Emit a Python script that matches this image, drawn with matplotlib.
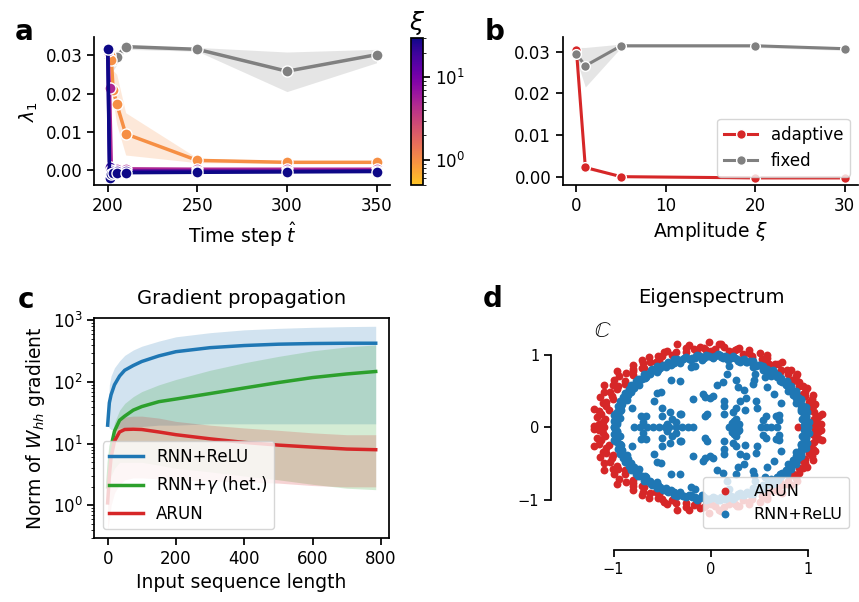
import numpy as np
import matplotlib
matplotlib.use('Agg')
import matplotlib.pyplot as plt
import matplotlib.cm as cm
from matplotlib.colors import LogNorm, ListedColormap

plt.rcParams.update({
    'font.size': 12,
    'axes.linewidth': 1.25,
    'xtick.major.width': 1.25,
    'ytick.major.width': 1.25,
    'xtick.major.size': 5,
    'ytick.major.size': 5,
})

# ---- panel a: lambda_1 vs time step, per amplitude xi ----
t_steps = [200, 201, 202, 203, 205, 210, 250, 300, 350]
xi_levels = [1, 5, 20, 30]
lam_xi1 = [0.0305, 0.0300, 0.0287, 0.0210, 0.0173, 0.0095, 0.0026, 0.0021, 0.0021]
lam_xi1_lo = [0.0300, 0.0290, 0.0270, 0.0180, 0.0120, 0.0040, 0.0020, 0.0018, 0.0018]
lam_xi1_hi = [0.0310, 0.0310, 0.0300, 0.0260, 0.0250, 0.0150, 0.0032, 0.0024, 0.0024]
lam_xi5 = [0.0310, 0.0215, 0.0006, 0.0005, 0.0004, 0.0004, 0.0003, 0.0003, 0.0003]
lam_xi20 = [0.0316, 0.0008, 0.0001, -0.0001, -0.0002, -0.0002, -0.0002, -0.0002, -0.0001]
lam_xi30 = [0.0316, -0.0020, -0.0010, -0.0008, -0.0006, -0.0006, -0.0005, -0.0004, -0.0003]
lam_fixed = [0.0300, 0.0298, 0.0295, 0.0288, 0.0296, 0.0322, 0.0315, 0.0258, 0.0301]
lam_fixed_lo = [0.0295, 0.0290, 0.0280, 0.0260, 0.0275, 0.0315, 0.0310, 0.0205, 0.0280]
lam_fixed_hi = [0.0305, 0.0305, 0.0305, 0.0310, 0.0310, 0.0325, 0.0320, 0.0308, 0.0315]

# ---- panel b: lambda_1 vs amplitude ----
amp = [0, 1, 5, 20, 30]
lam_adaptive = [0.0304, 0.0022, 0.0000, -0.0003, -0.0003]
lam_adaptive_lo = [0.0300, 0.0018, -0.0002, -0.0005, -0.0005]
lam_adaptive_hi = [0.0308, 0.0026, 0.0002, -0.0001, -0.0001]
lam_fix = [0.0294, 0.0266, 0.0314, 0.0314, 0.0307]
lam_fix_lo = [0.0280, 0.0215, 0.0310, 0.0310, 0.0303]
lam_fix_hi = [0.0310, 0.0310, 0.0318, 0.0318, 0.0311]

# ---- panel c: gradient norm vs sequence length ----
seq_len = [0, 5, 10, 20, 35, 50, 75, 100, 150, 200, 300, 400, 500, 600, 700, 785]
relu_mean = [20, 46, 62, 90, 125, 155, 185, 215, 265, 310, 360, 390, 410, 420, 425, 425]
relu_lo = [20, 18, 17, 17, 18, 18, 19, 19, 20, 20, 21, 21, 21, 21, 21, 21]
relu_hi = [20, 90, 125, 170, 220, 270, 330, 380, 460, 540, 630, 700, 740, 770, 790, 800]
gamma_mean = [2, 5, 9, 16, 24, 28, 35, 40, 48, 53, 65, 80, 98, 118, 135, 148]
gamma_lo = [1, 2, 3, 4, 5, 5, 5, 5, 4.5, 4, 3.5, 3, 2.6, 2.2, 1.9, 1.8]
gamma_hi = [2, 7, 12, 22, 35, 45, 58, 70, 90, 110, 155, 205, 260, 320, 370, 400]
arun_mean = [1.1, 3, 6, 11, 15.5, 17, 17.2, 17, 15.5, 14, 12, 10.5, 9.5, 8.8, 8.2, 8]
arun_lo = [0.4, 0.6, 1.0, 1.6, 2.2, 2.6, 2.8, 2.8, 2.7, 2.6, 2.5, 2.4, 2.3, 2.1, 2.0, 2.0]
arun_hi = [1.2, 5, 10, 18, 24, 27, 28, 28, 26, 23, 20, 18, 16.5, 15, 14, 14]

# ---- panel d: eigenvalues (upper half plane; conjugates mirrored) ----
relu_ring_phase = [0, 2, 4.5, 7, 9, 11.5, 14, 16, 18.5, 21,
                   23, 25.5, 28, 30, 32.5, 35, 37, 39.5, 42, 44,
                   46.5, 49, 51, 53.5, 56, 58, 60.5, 63, 65, 67.5,
                   70, 72, 74.5, 77, 79, 81.5, 84, 86, 88.5, 91,
                   93, 95.5, 98, 100, 102.5, 105, 107, 109.5, 112, 114,
                   116.5, 119, 121, 123.5, 126, 128, 130.5, 133, 135, 137.5,
                   140, 142, 144.5, 147, 149, 151.5, 154, 156, 158.5, 161,
                   163, 165.5, 168, 170, 172.5, 175, 177, 180,
                   1, 3.5, 5.5, 8, 10.5, 12.5, 15, 17.5, 19.5, 22,
                   24.5, 26.5, 29, 31.5, 33.5, 36, 38.5, 40.5, 43, 45.5,
                   47.5, 50, 52.5, 54.5, 57, 59.5, 61.5, 64, 66.5, 68.5,
                   71, 73.5, 75.5, 78, 80.5, 82.5, 85, 87.5, 89.5, 92,
                   94.5, 96.5, 99, 101.5, 103.5, 106, 108.5, 110.5, 113, 115.5,
                   117.5, 120, 122.5, 124.5, 127, 129.5, 131.5, 134, 136.5, 138.5,
                   141, 143.5, 145.5, 148, 150.5, 152.5, 155, 157.5, 159.5, 162,
                   164.5, 166.5, 169, 171.5, 173.5, 176, 178.5]
relu_ring_mag = [1.00, 0.955, 1.01, 0.94, 0.985, 1.00, 0.955, 1.01, 0.97, 0.94,
                 1.00, 0.985, 0.955, 1.01, 0.94, 1.00, 0.97, 1.01, 0.955, 0.985,
                 1.00, 0.94, 1.01, 0.97, 0.955, 1.00, 0.985, 0.94, 1.01, 0.97,
                 1.00, 0.955, 0.985, 1.01, 0.94, 1.00, 0.97, 1.01, 0.955, 0.985,
                 1.00, 0.94, 1.01, 0.97, 0.955, 1.00, 0.985, 0.94, 1.01, 0.97,
                 1.00, 0.955, 0.985, 1.01, 0.94, 1.00, 0.97, 1.01, 0.955, 0.985,
                 1.00, 0.94, 1.01, 0.97, 0.955, 1.00, 0.985, 0.94, 1.01, 0.97,
                 1.00, 0.955, 0.985, 1.01, 0.94, 1.00, 0.97, 1.00,
                 0.975, 0.99, 0.965, 0.985, 0.97, 1.005, 0.96, 0.99, 0.975, 1.0,
                 0.965, 0.98, 0.995, 0.96, 0.985, 0.975, 1.0, 0.965, 0.99, 0.97,
                 0.98, 1.005, 0.96, 0.985, 0.975, 0.995, 0.965, 0.98, 1.0, 0.97,
                 0.985, 0.96, 0.995, 0.975, 0.99, 0.965, 1.005, 0.98, 0.97, 0.99,
                 0.96, 0.985, 1.0, 0.975, 0.965, 0.99, 0.98, 1.005, 0.97, 0.96,
                 0.985, 0.995, 0.975, 0.965, 1.0, 0.98, 0.99, 0.96, 0.975, 1.005,
                 0.97, 0.985, 0.965, 0.995, 0.98, 0.96, 1.0, 0.975, 0.99, 0.97,
                 0.985, 0.965, 1.0, 0.975, 0.99, 0.97, 0.985]
relu_inner_re = [-0.21, -0.16, -0.41, -0.32, -0.51, -0.81, -0.72, -0.67, -0.50, -0.42,
                 -0.50, -0.32, -0.59, -0.18, -0.08, -0.06, -0.01, 0.02, -0.04, -0.06,
                 0.06, 0.12, 0.16, 0.19, 0.26, 0.34, 0.13, 0.13, 0.13, 0.23,
                 0.26, 0.30, 0.36, 0.35, 0.46, 0.47, 0.45, 0.44, 0.55, 0.58,
                 0.65, 0.72, 0.70, 0.67, 0.56, 0.53, -0.40, -0.36, 0.24, 0.28,
                 0.70, -0.70, -0.45, -0.55, 0.28, 0.43, 0.22, 0.26, 0.29, -0.31]
relu_inner_im = [0.83, 0.85, 0.65, 0.64, 0.49, 0.26, 0.16, 0.16, 0.26, 0.21,
                 0.15, 0.19, 0.37, 0.39, 0.46, 0.42, 0.40, 0.43, 0.19, 0.15,
                 0.59, 0.63, 0.74, 0.85, 0.65, 0.51, 0.37, 0.30, 0.19, 0.21,
                 0.26, 0.37, 0.40, 0.24, 0.36, 0.26, 0.74, 0.66, 0.69, 0.55,
                 0.46, 0.33, 0.17, 0.16, 0.15, 0.10, 0.12, 0.08, 0.09, 0.05,
                 0.10, 0.08, 0.05, 0.48, 0.55, 0.60, 0.06, 0.12, 0.04, 0.19]
relu_real = [-0.79, -0.73, -0.66, -0.60, -0.53, -0.47, -0.43, -0.36, -0.30, -0.24,
             -0.18, 0.19, 0.24, 0.28, 0.51, 0.56, 0.62, 0.68]

arun_phase = [1, 3, 6, 8, 11, 13, 16, 19, 21, 24,
              27, 29, 32, 35, 37, 40, 43, 45, 48, 51,
              53, 56, 59, 61, 64, 67, 69, 72, 75, 77,
              80, 83, 85, 88, 91, 93, 96, 99, 101, 104,
              107, 109, 112, 115, 117, 120, 123, 125, 128, 131,
              133, 136, 139, 141, 144, 147, 149, 152, 155, 157,
              160, 163, 165, 168, 171, 173, 176, 179,
              5, 14, 26, 38, 47, 58, 66, 79, 90, 98,
              111, 122, 130, 138, 146, 151, 159, 167, 174,
              2, 9, 17, 23, 31, 39, 44, 52, 60, 70,
              76, 86, 94, 103, 113, 119, 127, 135, 143, 150,
              156, 162, 169, 178]
arun_mag = [1.07, 1.10, 1.06, 1.12, 1.08, 1.05, 1.09, 1.07, 1.11, 1.06,
            1.08, 1.13, 1.07, 1.10, 1.06, 1.15, 1.08, 1.11, 1.07, 1.16,
            1.09, 1.06, 1.12, 1.08, 1.14, 1.07, 1.10, 1.06, 1.13, 1.09,
            1.07, 1.11, 1.16, 1.08, 1.18, 1.07, 1.12, 1.09, 1.16, 1.07,
            1.20, 1.10, 1.08, 1.14, 1.11, 1.07, 1.16, 1.10, 1.13, 1.08,
            1.18, 1.11, 1.15, 1.24, 1.09, 1.19, 1.12, 1.25, 1.14, 1.10,
            1.21, 1.16, 1.12, 1.23, 1.14, 1.18, 1.11, 1.20,
            1.05, 1.04, 1.05, 1.06, 1.04, 1.05, 1.04, 1.05, 1.06, 1.04,
            1.05, 1.06, 1.07, 1.08, 1.06, 1.10, 1.08, 1.07, 1.09,
            1.13, 1.15, 1.12, 1.14, 1.10, 1.12, 1.14, 1.11, 1.15, 1.13,
            1.12, 1.15, 1.10, 1.13, 1.15, 1.12, 1.17, 1.14, 1.18, 1.16,
            1.20, 1.13, 1.17, 1.15]
arun_real = [0.89, -1.10, -1.16]


def upper_to_full(re, im):
    re = np.asarray(re, float)
    im = np.asarray(im, float)
    return np.concatenate([re, re]), np.concatenate([im, -im])


def polar_to_full(mag, phase_deg):
    z = np.asarray(mag) * np.exp(1j * np.deg2rad(phase_deg))
    return upper_to_full(z.real, z.imag)


fig = plt.figure(figsize=(8.59, 6.02), dpi=100)

# ---------------- a ----------------
ax_a = fig.add_axes([0.1098, 0.6927, 0.3442, 0.2458])
# plasma, reversed, without the brightest yellow end
cmap = ListedColormap(plt.get_cmap('plasma')(np.linspace(0.88, 0.0, 256)))
norm = LogNorm(0.5, 30)
mk = dict(marker='o', lw=2.5, ms=8, mec='white', mew=1.0)

ax_a.fill_between(t_steps, lam_fixed_lo, lam_fixed_hi, color='gray', alpha=0.2, lw=0)
ax_a.plot(t_steps, lam_fixed, color='gray', **mk)
ax_a.fill_between(t_steps, lam_xi1_lo, lam_xi1_hi, color=cmap(norm(1)), alpha=0.2, lw=0)
for xi, lam in zip(xi_levels, [lam_xi1, lam_xi5, lam_xi20, lam_xi30]):
    ax_a.plot(t_steps, lam, color=cmap(norm(xi)), **mk)
ax_a.set_xlim(192.5, 357.5)
ax_a.set_ylim(-0.0038, 0.0347)
ax_a.set_xticks([200, 250, 300, 350])
ax_a.set_yticks([0.0, 0.01, 0.02, 0.03])
ax_a.set_xlabel(r'Time step $\hat{t}$', fontsize=13.5)
ax_a.set_ylabel(r'$\lambda_1$', fontsize=13.5)
ax_a.spines['top'].set_visible(False)
ax_a.spines['right'].set_visible(False)

cax = fig.add_axes([0.4785, 0.6927, 0.014, 0.2442])
cb = fig.colorbar(cm.ScalarMappable(norm=norm, cmap=cmap), cax=cax)
cax.set_title(r'$\xi$', fontsize=18, pad=6)

# ---------------- b ----------------
ax_b = fig.add_axes([0.6554, 0.6927, 0.3435, 0.2458])
mkb = dict(marker='o', lw=2.2, ms=7, mec='white', mew=1.0)
ax_b.fill_between(amp, lam_adaptive_lo, lam_adaptive_hi, color='#d62728', alpha=0.2, lw=0)
ax_b.plot(amp, lam_adaptive, color='#d62728', label='adaptive', **mkb)
ax_b.fill_between(amp, lam_fix_lo, lam_fix_hi, color='gray', alpha=0.2, lw=0)
ax_b.plot(amp, lam_fix, color='gray', label='fixed', **mkb)
ax_b.set_xlim(-1.5, 31.5)
ax_b.set_ylim(-0.002, 0.0335)
ax_b.set_xticks([0, 10, 20, 30])
ax_b.set_yticks([0.0, 0.01, 0.02, 0.03])
ax_b.set_xlabel(r'Amplitude $\xi$', fontsize=13.5)
ax_b.spines['top'].set_visible(False)
ax_b.spines['right'].set_visible(False)
ax_b.legend(loc='lower right', fontsize=12)

# ---------------- c ----------------
ax_c = fig.add_axes([0.1098, 0.1068, 0.3431, 0.3654])
series_c = [
    ('RNN+ReLU', relu_mean, relu_lo, relu_hi, '#1f77b4'),
    (r'RNN+$\gamma$ (het.)', gamma_mean, gamma_lo, gamma_hi, '#2ca02c'),
    ('ARUN', arun_mean, arun_lo, arun_hi, '#d62728'),
]
for label, mean, lo, hi, col in series_c:
    ax_c.fill_between(seq_len, lo, hi, color=col, alpha=0.2, lw=0)
for label, mean, lo, hi, col in series_c:
    ax_c.plot(seq_len, mean, color=col, lw=2.5, label=label)
ax_c.set_yscale('log')
ax_c.set_ylim(0.3, 1100)
ax_c.set_xlim(-39, 824)
ax_c.set_xticks([0, 200, 400, 600, 800])
ax_c.set_xlabel('Input sequence length', fontsize=13.5)
ax_c.set_ylabel(r'Norm of $W_{hh}$ gradient', fontsize=13.5)
ax_c.set_title('Gradient propagation', fontsize=14, pad=10)
ax_c.legend(loc='lower left', fontsize=12)

# ---------------- d ----------------
ax_d = fig.add_axes([0.6577, 0.1096, 0.34, 0.3611])
ar_x, ar_y = polar_to_full(arun_mag, arun_phase)
ar_x = np.concatenate([ar_x, arun_real])
ar_y = np.concatenate([ar_y, np.zeros(len(arun_real))])
rr_x, rr_y = polar_to_full(relu_ring_mag, relu_ring_phase)
ri_x, ri_y = upper_to_full(relu_inner_re, relu_inner_im)
rl_x = np.concatenate([rr_x, ri_x, relu_real])
rl_y = np.concatenate([rr_y, ri_y, np.zeros(len(relu_real))])
ax_d.scatter(ar_x, ar_y, s=32, color='#d62728', linewidths=0, label='ARUN')
ax_d.scatter(rl_x, rl_y, s=32, color='#1f77b4', linewidths=0, label='RNN+ReLU')
ax_d.set_xlim(-1.5, 1.5)
ax_d.set_ylim(-1.5, 1.5)
ax_d.set_xticks([-1, 0, 1])
ax_d.set_yticks([-1, 0, 1])
ax_d.tick_params(labelsize=10.5)
for side in ['top', 'right']:
    ax_d.spines[side].set_visible(False)
for side in ['left', 'bottom']:
    ax_d.spines[side].set_position(('outward', 10))
    ax_d.spines[side].set_bounds(-1, 1)
ax_d.set_title('Eigenspectrum', fontsize=14, pad=11)
ax_d.text(0.13, 0.945, r'$\mathbb{C}$', transform=ax_d.transAxes,
          ha='center', va='center', fontsize=16)
ax_d.legend(loc='lower right', fontsize=11.5, handletextpad=0.8)

# panel letters
for letter, x, y in [('a', 0.0175, 0.9336), ('b', 0.5646, 0.9336),
                     ('c', 0.021, 0.4889), ('d', 0.5623, 0.4905)]:
    fig.text(x, y, letter, fontsize=20, fontweight='bold', va='baseline')

fig.savefig('out.png', dpi=100)
